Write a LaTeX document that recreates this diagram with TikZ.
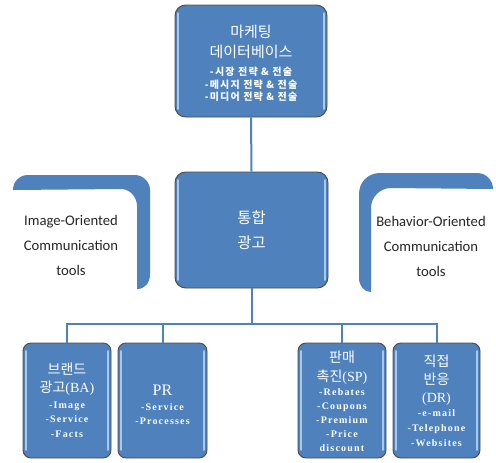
\documentclass[tikz,border=0pt]{standalone}
\usepackage{fontspec}
\setmainfont{Liberation Serif}
\newfontfamily\kr{Noto Sans CJK KR}
\newfontfamily\kritem[LetterSpace=12]{Noto Sans CJK KR}
\newfontfamily\itemf[LetterSpace=12]{Liberation Serif}
\newfontfamily\sidef{Carlito}
\definecolor{obl}{HTML}{4F81BD}
\definecolor{obllight}{HTML}{A9C8EE}
\begin{document}
\begin{tikzpicture}[x=0.75pt,y=-0.75pt,
  box/.style={draw=black!70, line width=0.7pt, fill=obl, rounded corners=6pt, inner sep=0pt,
    path picture={
      \draw[obllight, line width=1.4pt, line cap=round]
        ([xshift=2.2pt,yshift=-6pt]path picture bounding box.north west) --
        ([xshift=2.2pt,yshift=6pt]path picture bounding box.south west);
      \draw[obllight, line width=1.4pt, line cap=round]
        ([xshift=-2.2pt,yshift=-6pt]path picture bounding box.north east) --
        ([xshift=-2.2pt,yshift=6pt]path picture bounding box.south east);
    }},
  conn/.style={draw=obl, line width=1.5pt},
  wt/.style={text=white, align=center, inner sep=0pt},
  sidetext/.style={text=black!85, align=center, inner sep=0pt, font=\sidef\fontsize{11}{18.75}\selectfont},
  itm/.style={wt, font=\itemf\bfseries\fontsize{7.5}{#1}\selectfont}]
\useasboundingbox (0,0) rectangle (496,462);

% side shapes
\fill[obl] (13,190) .. controls (13,182) and (19,175) .. (28,175) -- (135,175)
  .. controls (143,175) and (150,182) .. (150,190) -- (150,274)
  .. controls (150,283) and (145,289) .. (137,289) -- (137,206)
  .. controls (137,197) and (130,189) .. (121,189) -- cycle;
\fill[obl] (493,189) .. controls (493,180) and (486,173) .. (477,173) -- (380,173)
  .. controls (368,173) and (359,182) .. (359,194) -- (359,278)
  .. controls (359,286) and (364,292) .. (371,292) -- (371,208)
  .. controls (371,197) and (380,188) .. (391,188) -- cycle;

% boxes
\node[box, rounded corners=8pt, minimum width=114pt, minimum height=84pt] (top) at (251,61) {};
\node[box, rounded corners=8pt, minimum width=114.75pt, minimum height=87pt] (mid) at (251.5,230) {};
\node[box, minimum width=66pt, minimum height=86.25pt] (b1) at (67,400.5) {};
\node[box, minimum width=66.75pt, minimum height=86.25pt] (b2) at (162.5,400.5) {};
\node[box, minimum width=66pt, minimum height=86.25pt] (b3) at (342,400.5) {};
\node[box, minimum width=65.25pt, minimum height=86.25pt] (b4) at (436.5,400.5) {};

% connectors
\coordinate (bus) at (251.5,324);
\draw[conn] (top.south) -- (mid.north);
\draw[conn] (mid.south) -- (bus);
\draw[conn] (b1.north) |- (bus) -| (b4.north);
\draw[conn] (b2.north) -- (b2.north |- bus);
\draw[conn] (b3.north) -- (b3.north |- bus);

% texts
\node[wt, font=\kr\fontsize{11.25}{15}\selectfont] (t0) at (251,42) {마케팅\\데이터베이스};
\node[wt, font=\kritem\bfseries\fontsize{7.5}{9.4}\selectfont] (t0i) at (251,84.5)
  {-시장 전략 \& 전술\\-메시지 전략 \& 전술\\-미디어 전략 \& 전술};
\node[wt, font=\kr\fontsize{11.5}{18.75}\selectfont] (tm) at (251.5,230.5) {통합\\광고};

\node[wt, font=\fontsize{10.5}{13.5}\selectfont] (t1) at (67,379) {{\kr 브랜드}\\{\kr 광고}(BA)};
\node[itm=10.9] (t1i) at (67,419.5) {-Image\\-Service\\-Facts};

\node[wt, font=\fontsize{12}{14}\selectfont] (t2) at (162.5,390) {PR};
\node[itm=10.5] (t2i) at (162.5,414) {-Service\\-Processes};

\node[wt, font=\fontsize{10.5}{14.25}\selectfont] (t3) at (342,367.5) {{\kr 판매}\\{\kr 촉진}(SP)};
\node[itm=10.5] (t3i) at (342,420) {-Rebates\\-Coupons\\-Premium\\-Price\\discount};

\node[wt, font=\fontsize{10.5}{13.5}\selectfont] (t4) at (436.5,380) {{\kr 직접}\\{\kr 반응}\\(DR)};
\node[itm=11.25] (t4i) at (436.5,428) {-e-mail\\-Telephone\\-Websites};

\node[sidetext] (sl) at (71,245) {Image-Oriented\\Communication\\tools};
\node[sidetext] (sr) at (431,246) {Behavior-Oriented\\Communication\\tools};
\end{tikzpicture}
\end{document}
